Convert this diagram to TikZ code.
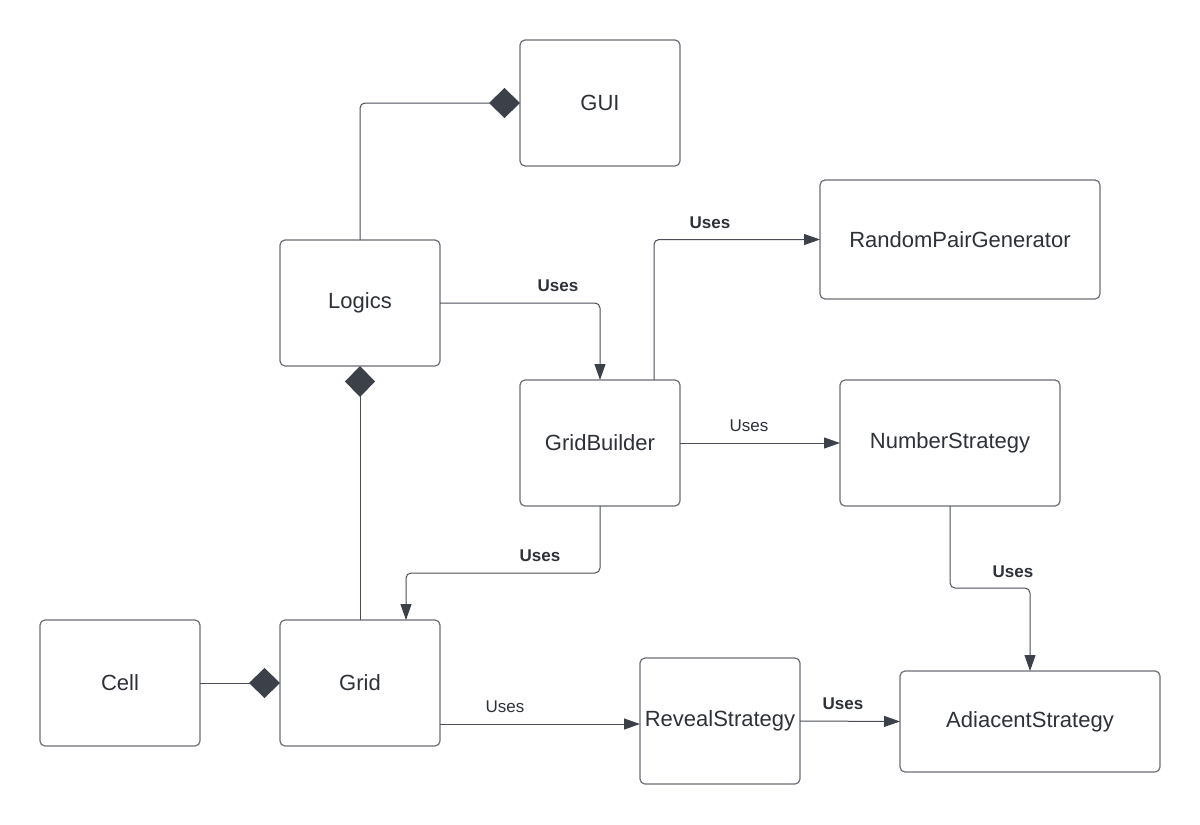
\documentclass[tikz,border=0pt]{standalone}
\usepackage{fontspec}
\setmainfont{Liberation Sans}
\usetikzlibrary{arrows.meta,calc}
\definecolor{boxline}{HTML}{6A6E75}
\definecolor{conn}{HTML}{4A4F57}
\definecolor{txt}{HTML}{2E3238}
\definecolor{tipfill}{HTML}{3B4049}
\tikzset{
  cls/.style={draw=boxline, line width=1.2pt, rounded corners=5pt, fill=white,
    inner sep=0pt, outer sep=0pt, text=txt,
    font=\fontsize{22}{26}\selectfont},
  conn/.style={draw=conn, line width=1pt, rounded corners=5pt},
  uses/.style={-{Triangle[length=16pt,width=11pt,color=tipfill]}, conn},
  comp/.style={-{Diamond[length=31pt,width=30pt,color=tipfill]}, conn},
  lblb/.style={text=txt, font=\fontsize{17}{20}\selectfont\bfseries, inner sep=0pt},
  lbln/.style={text=txt, font=\fontsize{17}{20}\selectfont, inner sep=0pt}
}
\begin{document}
\begin{tikzpicture}[x=1pt,y=-1pt]
\useasboundingbox[fill=white] (0,0) rectangle (1200,825);

\node[cls, minimum width=160pt, minimum height=126pt] (GUI) at (600,103) {GUI};
\node[cls, minimum width=160pt, minimum height=126pt] (Logics) at (360,303) {Logics};
\node[cls, minimum width=280pt, minimum height=119pt] (RPG) at (960,239.5) {RandomPairGenerator};
\node[cls, minimum width=160pt, minimum height=126pt] (GB) at (600,443) {GridBuilder};
\node[cls, minimum width=220pt, minimum height=126pt] (NS) at (950,443) {NumberStrategy};
\node[cls, minimum width=160pt, minimum height=126pt] (Cell) at (120,683) {Cell};
\node[cls, minimum width=160pt, minimum height=126pt] (Grid) at (360,683) {Grid};
\node[cls, minimum width=160pt, minimum height=126pt] (RS) at (720,721) {RevealStrategy};
\node[cls, minimum width=260pt, minimum height=101pt] (AS) at (1030,721.5) {AdiacentStrategy};

% composition connectors
\draw[comp] (Logics.north) |- (GUI.west);
\draw[comp] (Grid.north) -- (Logics.south);
\draw[comp] (Cell.east) -- (Grid.west);

% uses connectors
\draw[uses] (Logics.east) -| (GB.north);
\node[lblb] (l1) at (558,286) {Uses};

\draw[uses] ([xshift=54pt]GB.north) |- (RPG.west);
\node[lblb] (l2) at (710,223) {Uses};

\draw[uses] (GB.east) -- (NS.west);
\node[lbln] (l3) at (749,426) {Uses};

\draw[uses] (GB.south) -- ++(0,67) -| ([xshift=46pt]Grid.north);
\node[lblb] (l4) at (540,556) {Uses};

\draw[uses] ([yshift=-41pt]Grid.east) -- ([yshift=-41pt]Grid.east -| RS.west);
\node[lbln] (l5) at (505,707) {Uses};

\draw[uses] (RS.east) -- (AS.west);
\node[lblb] (l6) at (843,704) {Uses};

\draw[uses] (NS.south) -- ++(0,82) -| (AS.north);
\node[lblb] (l7) at (1013,572) {Uses};
\end{tikzpicture}
\end{document}
